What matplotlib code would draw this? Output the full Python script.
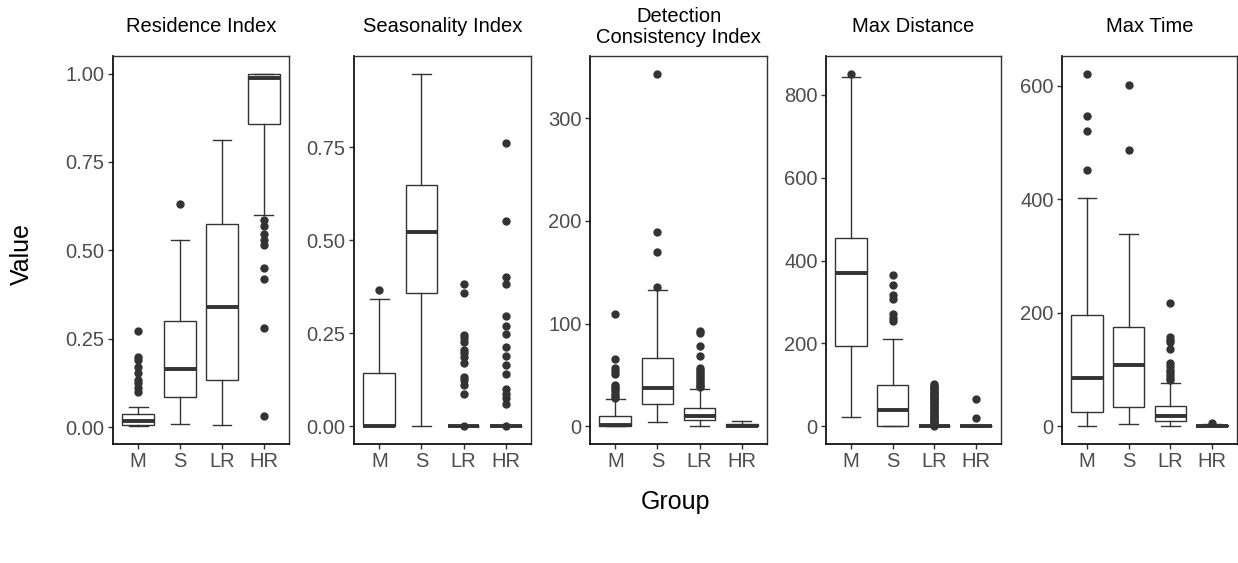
import matplotlib
matplotlib.use("Agg")
import matplotlib.pyplot as plt
from matplotlib.ticker import FormatStrFormatter

plt.rcParams['font.family'] = ['Liberation Sans', 'DejaVu Sans']

groups = ["M", "S", "LR", "HR"]
titles = ["Residence Index", "Seasonality Index", "Detection\nConsistency Index",
          "Max Distance", "Max Time"]

# box stats per group: whislo, q1, med, q3, whishi
ri_stats = [[0.002, 0.006, 0.016, 0.036, 0.058],
            [0.010, 0.086, 0.163, 0.299, 0.529],
            [0.006, 0.133, 0.341, 0.574, 0.811],
            [0.600, 0.858, 0.988, 1.000, 1.000]]
ri_fliers = [[0.271, 0.197, 0.191, 0.171, 0.154, 0.133, 0.126, 0.110, 0.100],
             [0.632],
             [],
             [0.585, 0.570, 0.545, 0.530, 0.515, 0.450, 0.420, 0.280, 0.030]]

si_stats = [[0.0, 0.0, 0.0, 0.144, 0.341],
            [0.0, 0.358, 0.523, 0.647, 0.947],
            [0.0, 0.0, 0.0, 0.0, 0.0],
            [0.0, 0.0, 0.0, 0.0, 0.0]]
si_fliers = [[0.365],
             [],
             [0.382, 0.359, 0.245, 0.236, 0.227, 0.206, 0.197, 0.185, 0.169,
              0.133, 0.125, 0.111, 0.086, 0.0],
             [0.761, 0.551, 0.402, 0.383, 0.295, 0.269, 0.249, 0.212, 0.190,
              0.166, 0.140, 0.100, 0.086, 0.075, 0.060, 0.0]]

dci_stats = [[0.0, 0.3, 1.6, 10.3, 26.5],
             [3.9, 21.6, 37.1, 66.5, 132.9],
             [0.6, 6.1, 10.3, 18.1, 36.1],
             [0.0, 0.0, 0.5, 2.0, 5.2]]
dci_fliers = [[109, 66, 57, 54, 51, 40, 38, 36, 34, 32, 30, 28],
              [343.5, 189, 169.4, 135.5],
              [92.6, 91, 78, 69, 57, 55, 53, 51, 49, 47, 45, 43, 41, 39, 38],
              []]

md_stats = [[23, 195, 370, 454, 842],
            [0, 0, 39, 100, 210],
            [0, 0, 0, 0, 0],
            [0, 0, 0, 0, 0]]
md_fliers = [[851],
             [364, 342, 318, 308, 270, 262, 254],
             [102, 98, 95, 92, 89, 86, 83, 80, 77, 74, 71, 68, 65, 62, 59, 56,
              53, 50, 47, 44, 41, 38, 35, 32, 29, 26, 23, 20, 17, 14, 11, 8, 5, 2],
             [66, 19]]

mt_stats = [[0, 25.7, 85.9, 195.7, 403],
            [3.5, 33.9, 107.5, 175.3, 338.3],
            [1.2, 8.8, 18.1, 36.2, 77.1],
            [0, 0, 1, 2, 4]]
mt_fliers = [[621.6, 546.8, 521, 451.6],
             [601.2, 487.8],
             [217.3, 157, 153, 149, 136, 112, 106, 100, 95, 90, 86, 82],
             [6]]

panels = [(ri_stats, ri_fliers, [0, 0.25, 0.5, 0.75, 1.0], '%.2f'),
          (si_stats, si_fliers, [0, 0.25, 0.5, 0.75], '%.2f'),
          (dci_stats, dci_fliers, [0, 100, 200, 300], '%d'),
          (md_stats, md_fliers, [0, 200, 400, 600, 800], '%d'),
          (mt_stats, mt_fliers, [0, 200, 400, 600], '%d')]

W, H = 1238, 563
fig = plt.figure(figsize=(W / 100, H / 100), dpi=100)

# panel left/right edges in pixels
edges = [(113, 289), (354, 531), (590, 767), (826, 1001), (1062, 1237)]
top_px, bot_px = 56, 444
dark = '#333333'

for i, (stats, fliers, yt, fmt) in enumerate(panels):
    x0, x1 = edges[i]
    ax = fig.add_axes([x0 / W, 1 - bot_px / H, (x1 - x0) / W, (bot_px - top_px) / H])
    bx = []
    for g, s, f in zip(groups, stats, fliers):
        bx.append(dict(label=g, whislo=s[0], q1=s[1], med=s[2], q3=s[3],
                       whishi=s[4], fliers=f))
    ax.bxp(bx, positions=[1, 2, 3, 4], widths=0.75, capwidths=0.45,
           patch_artist=True,
           boxprops=dict(facecolor='white', edgecolor=dark, linewidth=1.0),
           medianprops=dict(color=dark, linewidth=2.8, solid_capstyle='butt'),
           whiskerprops=dict(color=dark, linewidth=1.0),
           capprops=dict(color=dark, linewidth=1.0),
           flierprops=dict(marker='o', markersize=5.0, markerfacecolor=dark,
                           markeredgecolor=dark, linestyle='none'))
    vals = [v for s in stats for v in s] + [v for f in fliers for v in f]
    lo, hi = min(vals), max(vals)
    pad = (hi - lo) * 0.05
    ax.set_ylim(lo - pad, hi + pad)
    ax.set_xlim(0.4, 4.6)
    ax.set_yticks(yt)
    ax.yaxis.set_major_formatter(FormatStrFormatter(fmt))
    ax.set_xticks([1, 2, 3, 4])
    ax.set_xticklabels(groups)
    ax.tick_params(axis='both', length=3.5, width=1.0, color=dark,
                   labelcolor='#4D4D4D', labelsize=14.5, pad=2.5)
    for side in ['left', 'bottom']:
        ax.spines[side].set_color('black')
        ax.spines[side].set_linewidth(1.2)
    for side in ['top', 'right']:
        ax.spines[side].set_color(dark)
        ax.spines[side].set_linewidth(1.0)
    fig.text((x0 + x1) / 2 / W, 1 - 27 / H, titles[i], ha='center', va='center',
             fontsize=14.5, color='black', linespacing=1.12)

fig.text(676 / W, 1 - 502 / H, "Group", ha='center', va='center', fontsize=18)
fig.text(22 / W, 1 - 254 / H, "Value", ha='center', va='center', fontsize=18,
         rotation=90)

fig.savefig("out.png", dpi=100)
